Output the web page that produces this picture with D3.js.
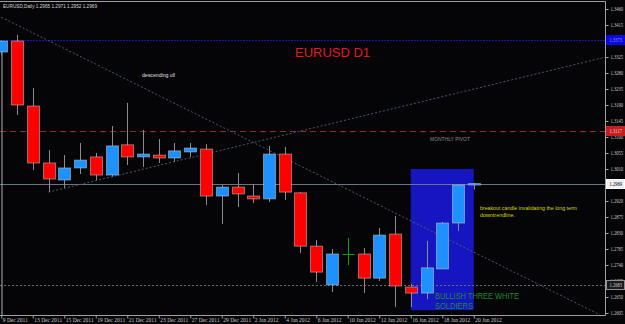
<!DOCTYPE html>
<html>
<head>
<meta charset="utf-8">
<script src="https://cdn.jsdelivr.net/npm/d3@7"></script>
<style>
body{margin:0;background:#050407;overflow:hidden;}
svg text{font-family:"Liberation Sans",Arial,sans-serif;}
</style>
</head>
<body>
<div id="chart"></div>
<script>
// EURUSD daily bars, 9 Dec 2011 - 20 Jan 2012
var dates = ["9 Dec 2011","12 Dec 2011","13 Dec 2011","14 Dec 2011","15 Dec 2011","16 Dec 2011",
  "19 Dec 2011","20 Dec 2011","21 Dec 2011","22 Dec 2011","23 Dec 2011","26 Dec 2011","27 Dec 2011",
  "28 Dec 2011","29 Dec 2011","30 Dec 2011","2 Jan 2012","3 Jan 2012","4 Jan 2012","5 Jan 2012",
  "6 Jan 2012","9 Jan 2012","10 Jan 2012","11 Jan 2012","12 Jan 2012","13 Jan 2012","16 Jan 2012",
  "17 Jan 2012","18 Jan 2012","19 Jan 2012","20 Jan 2012"]
var opens  = [1.3339,1.3370,1.3187,1.3027,1.2979,1.3013,1.3044,1.2993,1.3078,1.3044,1.3049,1.3041,1.3058,
  1.3066,1.2934,1.2959,1.2934,1.2926,1.3052,1.2943,1.2793,1.2684,1.2771,1.2771,1.2703,1.2827,1.2678,
  1.2661,1.2729,1.2858,1.2965]
var highs  = [1.3372,1.3387,1.3238,1.3063,1.3049,1.3083,1.3055,1.3131,1.3196,1.3120,1.3094,1.3083,1.3083,
  1.3080,1.2965,1.2999,1.2968,1.3075,1.3072,1.2945,1.2810,1.2785,1.2816,1.2788,1.2844,1.2878,1.2687,
  1.2808,1.2861,1.2968,1.2971]
var lows   = [1.3330,1.3162,1.3007,1.2945,1.2957,1.2996,1.2979,1.2988,1.3021,1.3016,1.3027,1.3030,1.3044,
  1.2909,1.2855,1.2903,1.2914,1.2917,1.2923,1.2774,1.2692,1.2664,1.2740,1.2661,1.2695,1.2622,1.2622,
  1.2644,1.2729,1.2836,1.2952]
var closes = [1.3370,1.3190,1.3027,1.2982,1.3013,1.3035,1.2993,1.3075,1.3044,1.3052,1.3041,1.3061,1.3069,
  1.2934,1.2959,1.2940,1.2926,1.3052,1.2945,1.2793,1.2720,1.2771,1.2771,1.2703,1.2824,1.2681,1.2661,
  1.2732,1.2858,1.2965,1.2969]

var priceTicks = [1.3460,1.3415,1.3370,1.3325,1.3280,1.3235,1.3190,1.3145,1.3100,1.3055,1.3010,1.2965,
  1.2920,1.2875,1.2830,1.2785,1.2740,1.2695,1.2650,1.2605]
var dateTicks = [0,2,4,6,8,10,12,14,16,18,20,22,24,26,28,30]

// horizontal levels: blue line, monthly pivot, bid, dotted support
var levelPrices = [1.3373,1.3117,1.2969,1.2683]
// trendlines as [bar index, price] pairs
var downTrend = [[0,1.3437],[38,1.2600]]
var upTrend = [[3,1.2945],[38.4,1.3325]]
// highlighted box: bars and prices
var boxBars = [26,30]
var boxPrices = [1.3010,1.2613]

var W = 625, H = 324
var right = 605, bottom = 315

var svg = d3.select("#chart").append("svg")
  .attr("width",W)
  .attr("height",H)
svg.append("rect").attr("width",W).attr("height",H).attr("fill","#050407")

var x = d3.scaleLinear().domain([0,30]).range([1.25,473.75])
var y = d3.scaleLinear().domain([1.2605,1.3460]).range([313,9])

svg.append("clipPath").attr("id","plot")
  .append("rect").attr("x",0).attr("y",1).attr("width",right).attr("height",bottom-1)
var plot = svg.append("g").attr("clip-path","url(#plot)")

// blue box behind the candles
plot.append("rect")
  .attr("x",x(boxBars[0]))
  .attr("y",y(boxPrices[0]))
  .attr("width",x(boxBars[1])-x(boxBars[0]))
  .attr("height",y(boxPrices[1])-y(boxPrices[0]))
  .attr("fill","#1616c0")

// level lines
var levelStyle = [
  {c:"#1010d0",d:"2,1"},
  {c:"#8a2a2a",d:"6,4"},
  {c:"#6c7484",d:null},
  {c:"#6a6a6a",d:"2,2"}]
levelPrices.forEach(function(p,k){
  plot.append("line")
    .attr("x1",0).attr("x2",right)
    .attr("y1",Math.round(y(p))+0.5).attr("y2",Math.round(y(p))+0.5)
    .attr("stroke",levelStyle[k].c)
    .attr("stroke-dasharray",levelStyle[k].d)
})

// trendlines
var tl = d3.line().x(function(d){return x(d[0])}).y(function(d){return y(d[1])})
;[downTrend,upTrend].forEach(function(t){
  plot.append("path")
    .attr("d",tl(t))
    .attr("fill","none")
    .attr("stroke","#4a5a6c")
    .attr("stroke-dasharray","2,2")
})

// left border line
plot.append("line").attr("x1",2).attr("x2",2).attr("y1",43).attr("y2",bottom)
  .attr("stroke","#b0b0b0")

// candles
var bars = d3.range(dates.length)
function col(i){
  if (closes[i]>opens[i]) return "#1e90ff"
  if (closes[i]<opens[i]) return "#ff0000"
  return "#14a014"
}
plot.selectAll(".wick").data(bars).enter().append("line")
  .attr("class","wick")
  .attr("x1",function(i){return Math.round(x(i))+0.5})
  .attr("x2",function(i){return Math.round(x(i))+0.5})
  .attr("y1",function(i){return y(highs[i])})
  .attr("y2",function(i){return y(lows[i])})
  .attr("stroke",function(i){return opens[i]==closes[i] ? "#14a014" : "#8c8c8c"})
plot.selectAll(".body").data(bars).enter().append("rect")
  .attr("class","body")
  .attr("x",function(i){return Math.round(x(i))-5.5})
  .attr("y",function(i){return y(Math.max(opens[i],closes[i]))})
  .attr("width",12)
  .attr("height",function(i){return Math.max(1,Math.abs(y(opens[i])-y(closes[i])))})
  .attr("fill",function(i){return col(i)})
  .attr("stroke",function(i){return opens[i]==closes[i] ? "none" : "#d0d0d0"})
  .attr("stroke-opacity",0.5)
  .attr("stroke-width",1)

// frame
svg.append("path")
  .attr("d","M0,1.5H"+(right+0.5)+"V"+(bottom+0.5)+"H0")
  .attr("fill","none")
  .attr("stroke","#a0a0a0")

// price axis
var yAxis = svg.append("g")
  .attr("transform","translate("+(right+0.5)+",0)")
  .call(d3.axisRight(y).tickValues(priceTicks).tickSize(3).tickPadding(2).tickFormat(d3.format(".4f")))
yAxis.select(".domain").remove()
yAxis.selectAll("line").attr("stroke","#a0a0a0")
yAxis.selectAll("text").attr("fill","#c8c8c8").style("font-size","5.5px")
  .style("font-family","Liberation Serif, serif")
  .attr("textLength",12.5).attr("lengthAdjust","spacingAndGlyphs")

// date axis
var xAxis = svg.append("g")
  .attr("transform","translate(0,"+(bottom+0.5)+")")
  .call(d3.axisBottom(x).tickValues(dateTicks).tickSize(3).tickPadding(1)
    .tickFormat(function(i){return dates[i]}))
xAxis.select(".domain").remove()
xAxis.selectAll("line").attr("stroke","#a0a0a0")
xAxis.selectAll("text").attr("fill","#c8c8c8").style("font-size","5.5px")
  .style("font-family","Liberation Serif, serif")
  .attr("text-anchor","start").attr("dx",1).attr("dy","0.5em")

// level labels on the axis
var labelStyle = [
  {bg:"#0a0ae0",fg:"#9090ff",st:"#0a0ae0"},
  {bg:"#c02020",fg:"#ffc8c8",st:"#c02020"},
  {bg:"#f0f0f0",fg:"#000000",st:"#ffffff"},
  {bg:"#1a1a1a",fg:"#c8c8c8",st:"#909090"}]
levelPrices.forEach(function(p,k){
  var g = svg.append("g").attr("transform","translate("+(right+1)+","+Math.round(y(p))+")")
  g.append("rect").attr("x",0.5).attr("y",-4.5).attr("width",18).attr("height",9)
    .attr("fill",labelStyle[k].bg).attr("stroke",labelStyle[k].st)
  g.append("text").attr("x",3.5).attr("y",2).text(d3.format(".4f")(p))
    .attr("fill",labelStyle[k].fg).style("font-size","5.5px")
    .style("font-family","Liberation Serif, serif")
    .attr("textLength",12.5).attr("lengthAdjust","spacingAndGlyphs")
})

// texts
function label(txt,tx,ty,size,color,len){
  var t = svg.append("text").attr("x",tx).attr("y",ty).text(txt)
    .attr("fill",color).style("font-size",size+"px")
  if (len) t.attr("textLength",len).attr("lengthAdjust","spacingAndGlyphs")
  return t
}
label("EURUSD,Daily  1.2965 1.2971 1.2952 1.2969",3,8,6,"#d8d8d8",94)
label("EURUSD D1",295,57,13.5,"#e01c1c",75)
label("descending ull",142,77,5.5,"#e0e0e0",33)
label("MONTHLY PIVOT",430,141,5.5,"#8a8a8a",40)
label("breakout candle invalidating the long term",480,210,5.5,"#d8d800",97)
label("downtrendline.",480,217,5.5,"#d8d800",35)
label("BULLISH THREE WHITE",435,299,9,"#1e8c2e",84)
label("SOLDIERS",435,309,9,"#1e8c2e",38)
</script>
</body>
</html>
